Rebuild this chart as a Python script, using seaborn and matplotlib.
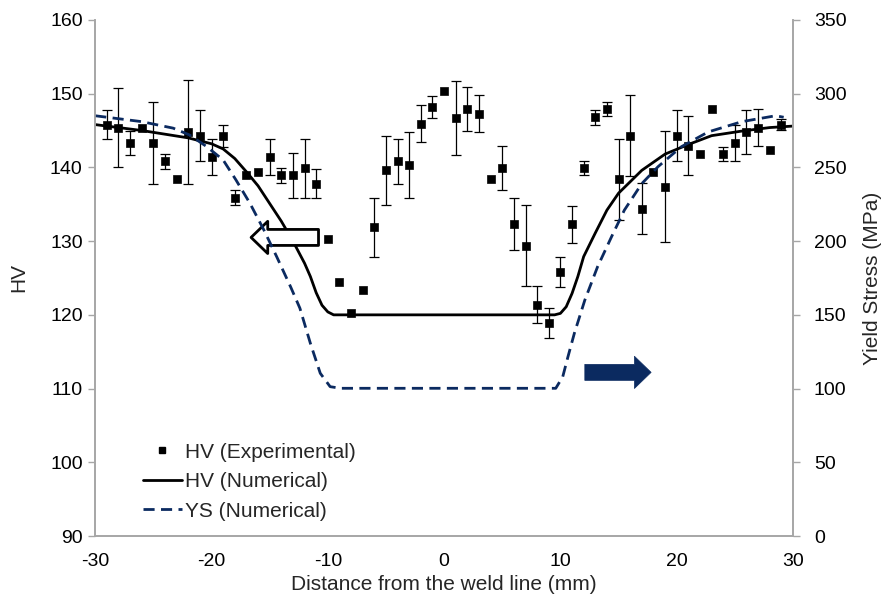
import numpy as np
import pandas as pd
import seaborn as sns
import matplotlib.pyplot as plt
from matplotlib.lines import Line2D

# experimental hardness (HV) with error bars
x_exp = list(range(-29, 30))
hv_exp = [145.8, 145.4, 143.3, 145.3, 143.3, 140.8, 138.4, 144.8, 144.3, 141.4,
          144.3, 135.9, 138.9, 139.4, 141.4, 138.9, 138.9, 139.9, 137.8, 130.3,
          124.4, 120.3, 123.4, 131.9, 139.6, 140.8, 140.3, 145.9, 148.2, 150.3,
          146.7, 147.9, 147.3, 138.4, 139.9, 132.3, 129.4, 121.4, 118.9, 125.8,
          132.3, 139.9, 146.8, 147.9, 138.4, 144.3, 134.4, 139.4, 137.4, 144.3,
          142.9, 141.8, 147.9, 141.8, 143.3, 144.8, 145.4, 142.4, 145.8]
hv_err = [2.0, 5.4, 1.6, 0, 5.5, 1.0, 0, 7.0, 3.5, 2.5,
          1.5, 1.0, 0, 0, 2.5, 1.0, 3.0, 4.0, 2.0, 0,
          0, 0, 0, 4.0, 4.7, 3.0, 4.5, 2.5, 1.5, 0,
          5.0, 3.0, 2.5, 0, 3.0, 3.5, 5.5, 2.5, 2.0, 2.0,
          2.5, 1.0, 1.0, 1.0, 5.5, 5.5, 3.5, 0, 7.5, 3.5,
          4.0, 0, 0, 1.0, 2.5, 3.0, 2.5, 0, 0.7]

# numerical hardness curve
x_hv = [-30, -28, -26, -24, -22, -20, -19, -18, -17, -16, -15, -14, -13, -12,
        -11.5, -11, -10.5, -10, -9.5, 9.5, 10, 10.5, 11, 11.5, 12, 13, 14, 15,
        17, 19, 21, 23, 25.5, 28, 30]
hv_num = [145.8, 145.4, 145.0, 144.5, 144.0, 143.2, 142.5, 141.2, 139.4, 137.5,
          135.1, 132.7, 130.0, 127.0, 125.2, 123.0, 121.3, 120.4, 120.0, 120.0,
          120.2, 121.1, 122.9, 125.2, 127.9, 131.1, 134.2, 136.5, 139.6, 141.8,
          143.1, 144.3, 144.9, 145.4, 145.6]

# numerical yield stress curve (MPa)
x_ys = [-30, -26, -23.3, -21.9, -20.4, -19, -17.9, -16.7, -15.5, -14.4, -13.2,
        -12.4, -11.5, -10.65, -9.8, -8.9, 9.6, 10.2, 10.65, 11.2, 12.1, 13.2,
        14.4, 15.5, 17, 18.4, 20.4, 22.7, 25.6, 28.5, 29.2]
ys_num = [285, 281, 276.6, 272, 264, 255, 241.5, 225.7, 207.6, 189.5, 169,
          154.5, 130.7, 110.4, 101.3, 100.2, 100.2, 108, 121.6, 137.5, 160, 182.7,
          203, 221, 239, 250.5, 264, 274, 281, 285, 284]

df_exp = pd.DataFrame({'x': x_exp, 'hv': hv_exp, 'err': hv_err})
df_hv = pd.DataFrame({'x': x_hv, 'hv': hv_num})
df_ys = pd.DataFrame({'x': x_ys, 'ys': ys_num})

sns.set_style('white')
plt.rcParams['font.family'] = ['Liberation Sans', 'DejaVu Sans']
plt.rcParams['axes.unicode_minus'] = False

navy = '#0b2a60'
grey = '#a6a6a6'

fig = plt.figure(figsize=(8.9, 6.03), dpi=100)
ax = fig.add_axes([0.107, 0.111, 0.784, 0.856])
ax2 = ax.twinx()

sns.lineplot(data=df_hv, x='x', y='hv', ax=ax, color='black', lw=2.0, zorder=2)
sns.lineplot(data=df_ys, x='x', y='ys', ax=ax2, color=navy, lw=2.0, zorder=2)
ax2.lines[0].set_dashes([4, 2.3])

bars = df_exp[df_exp['err'] > 0]
ax.errorbar(bars['x'], bars['hv'], yerr=bars['err'], fmt='none',
            ecolor='black', elinewidth=0.9, capsize=3.5, capthick=0.9, zorder=3)
sns.scatterplot(data=df_exp, x='x', y='hv', ax=ax, marker='s', s=36,
                color='black', edgecolor='black', zorder=4)

# direction arrows
arrow_style = 'simple,head_length=0.75,head_width=1.45,tail_width=0.72'
ax.annotate('', xy=(-16.6, 130.5), xytext=(-10.8, 130.5),
            arrowprops=dict(arrowstyle=arrow_style, fc='white', ec='black',
                            lw=2, mutation_scale=16, shrinkA=0, shrinkB=0))
ax.annotate('', xy=(17.8, 112.2), xytext=(12.1, 112.2),
            arrowprops=dict(arrowstyle=arrow_style, fc=navy, ec=navy,
                            lw=0.5, mutation_scale=16, shrinkA=0, shrinkB=0))

ax.set_xlim(-30, 30)
ax.set_ylim(90, 160)
ax2.set_ylim(0, 350)
ax.set_xticks(range(-30, 31, 10))
ax.set_yticks(range(90, 161, 10))
ax2.set_yticks(range(0, 351, 50))

ax.set_xlabel('Distance from the weld line (mm)', fontsize=15, labelpad=4)
ax.set_ylabel('HV', fontsize=15, labelpad=16)
ax2.set_ylabel('Yield Stress (MPa)', fontsize=15, labelpad=12)

for a in (ax, ax2):
    a.tick_params(labelsize=14, colors='black', length=5, width=1,
                  color=grey, direction='out')
    for side, sp in a.spines.items():
        sp.set_color(grey)
        sp.set_linewidth(1.2)
    a.spines['top'].set_visible(False)
ax.tick_params(axis='x', pad=7)
ax.tick_params(axis='y', pad=4)
ax2.tick_params(axis='y', right=True, pad=10)

handles = [Line2D([], [], ls='none', marker='s', ms=5, color='black'),
           Line2D([], [], color='black', lw=2.0),
           Line2D([], [], color=navy, lw=2.0, dashes=[4, 2.3])]
labels = ['HV (Experimental)', 'HV (Numerical)', 'YS (Numerical)']
ax.legend(handles, labels, loc='lower left', bbox_to_anchor=(0.068, 0.03),
          frameon=False, fontsize=15, handlelength=1.9, handletextpad=0.15,
          labelspacing=0.5, borderpad=0, borderaxespad=0)

fig.savefig('out.png', dpi=100)
